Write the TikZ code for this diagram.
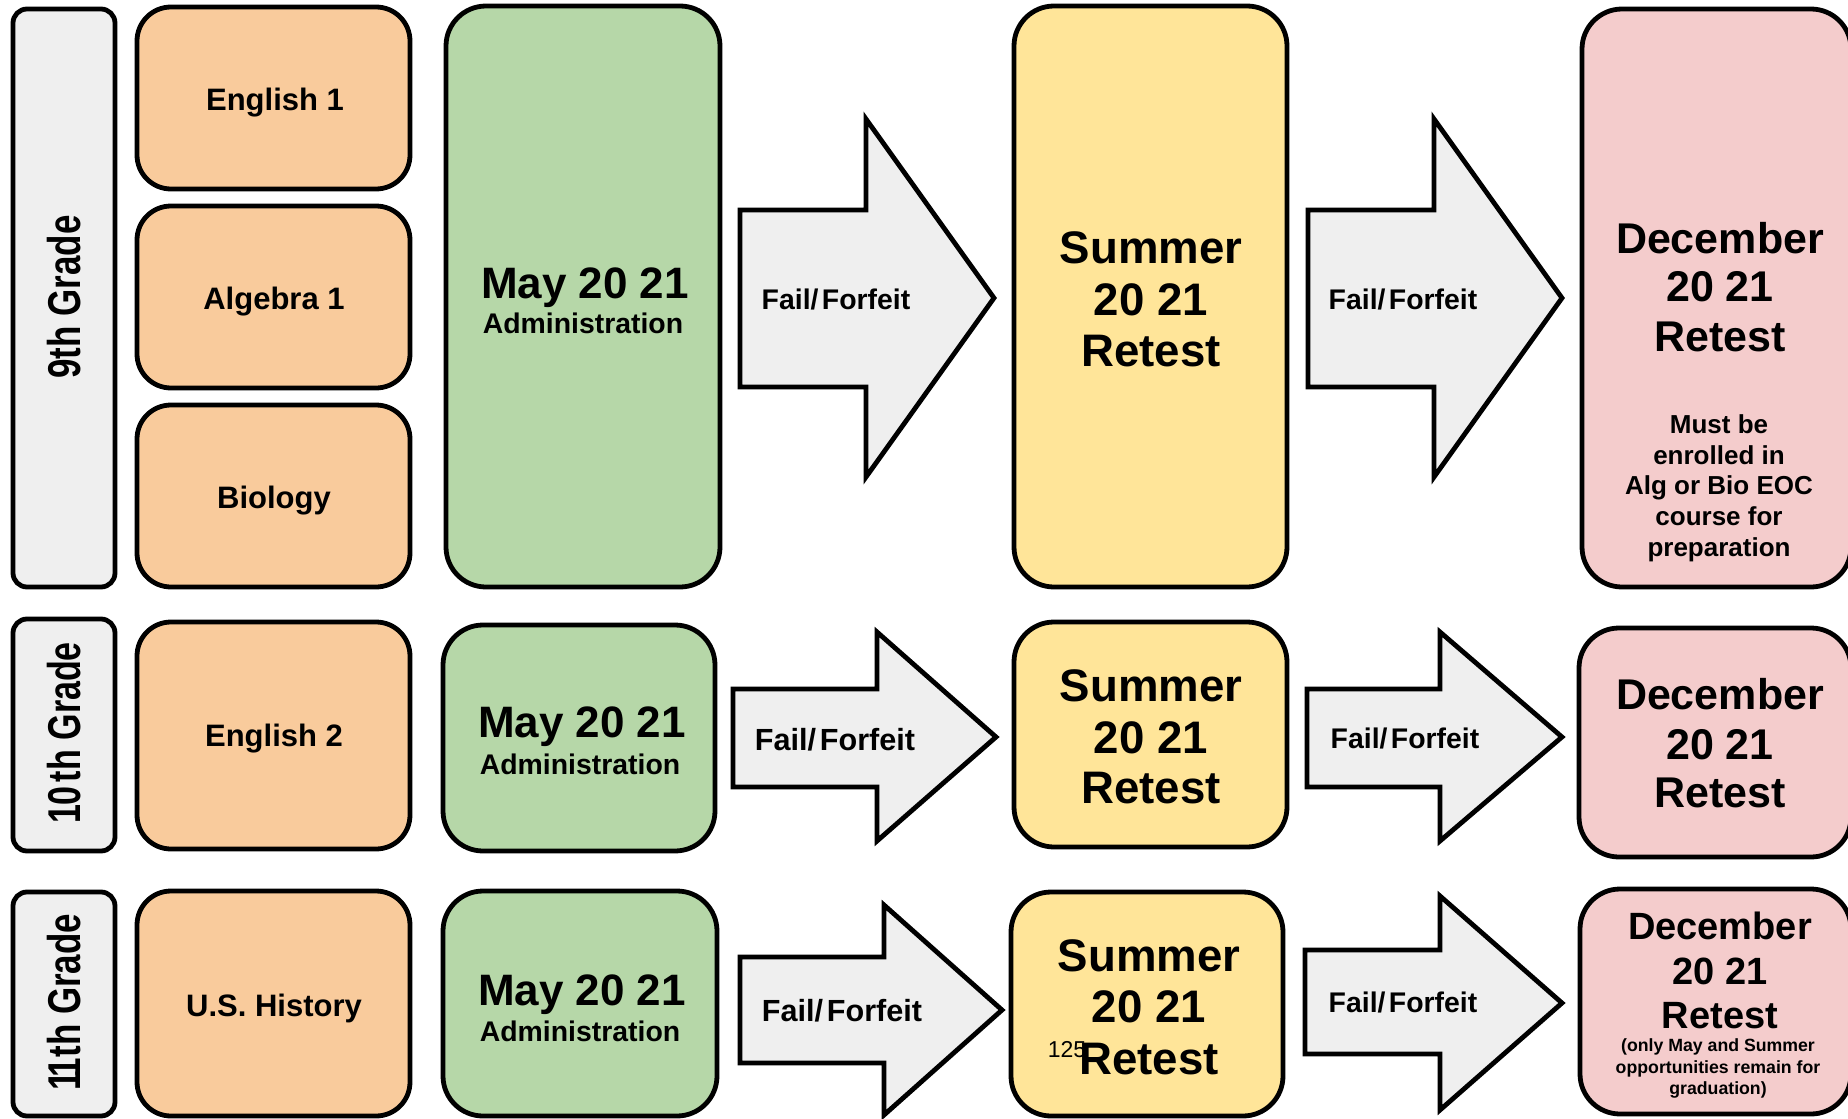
\documentclass[tikz,border=0pt]{standalone}
\usepackage{fontspec}
\setmainfont{Liberation Sans}
\usetikzlibrary{fit}
\definecolor{cOrange}{HTML}{F9CB9C}
\definecolor{cGreen}{HTML}{B6D7A8}
\definecolor{cYellow}{HTML}{FFE599}
\definecolor{cPink}{HTML}{F4CCCC}
\definecolor{cGray}{HTML}{EFEFEF}
\tikzset{
  boxbase/.style={draw=black, line width=2.4pt, inner sep=0pt, line join=round},
  gradebox/.style={boxbase, fill=cGray, rounded corners=7pt},
  coursebox/.style={boxbase, fill=cOrange, rounded corners=17pt},
  maybox/.style={boxbase, fill=cGreen, rounded corners=20pt},
  sumbox/.style={boxbase, fill=cYellow, rounded corners=20pt},
  decbox/.style={boxbase, fill=cPink, rounded corners=20pt},
  blockarrow/.style={draw=black, line width=2.4pt, fill=cGray, line join=miter},
  gradelabel/.style={rotate=90, inner sep=0pt, font=\fontsize{23}{23}\selectfont\bfseries},
}
% name, x, y (visual centre, px), size (pt), text
\newcommand{\tline}[5]{\node[inner sep=0pt, anchor=base, font=\fontsize{#4}{#4}\selectfont\bfseries] (#1) at (#2,{#3+0.72*#4}) {#5};}
\newcommand{\ff}{Fail/\kern0.12em Forfeit}
\begin{document}
\begin{tikzpicture}[x=0.5pt,y=-0.5pt]
\useasboundingbox (0,0) rectangle (1848,1119);
\clip (0,0) rectangle (1848,1119);

% ---------- grade boxes
\node[gradebox, fit={(13,9) (115,587)}] (g9) {};
\node[gradebox, fit={(13,619) (115,851)}] (g10) {};
\node[gradebox, fit={(13,892) (115,1116)}] (g11) {};
\node[gradelabel] (t9) at (64,297) {\scalebox{0.76}[1]{9th Grade}};
\node[gradelabel] (t10) at (64,733) {\scalebox{0.74}[1]{10\kern0.12em th Grade}};
\node[gradelabel] (t11) at (64,1002) {\scalebox{0.76}[1]{1\kern-0.18em 1th Grade}};

% ---------- course boxes
\node[coursebox, fit={(137,7) (410,189)}] (c1) {};
\node[coursebox, fit={(137,206) (410,388)}] (c2) {};
\node[coursebox, fit={(137,405) (410,587)}] (c3) {};
\node[coursebox, fit={(137,622) (410,849)}] (c4) {};
\node[coursebox, fit={(137,891) (410,1116)}] (c5) {};
\tline{tc1}{275}{99}{15.5}{English 1}
\tline{tc2}{274}{298}{15.5}{Algebra 1}
\tline{tc3}{274}{497}{15.5}{Biology}
\tline{tc4}{274}{735}{15.5}{English 2}
\tline{tc5}{274}{1005}{15.5}{U.S. History}

% ---------- May boxes
\node[maybox, fit={(446,6) (720,587)}] (m1) {};
\node[maybox, fit={(443,625) (715,851)}] (m2) {};
\node[maybox, fit={(443,891) (717,1116)}] (m3) {};
\tline{tm1a}{585}{283}{22}{May 20 21}
\tline{tm1b}{583}{323}{14.2}{Administration}
\tline{tm2a}{582}{722}{22}{May 20 21}
\tline{tm2b}{580}{764}{14.2}{Administration}
\tline{tm3a}{582}{990}{22}{May 20 21}
\tline{tm3b}{580}{1031}{14.2}{Administration}

% ---------- Summer boxes
\node[sumbox, fit={(1014,6) (1287,587)}] (s1) {};
\node[sumbox, fit={(1014,622) (1287,847)}] (s2) {};
\node[sumbox, fit={(1011,892) (1283,1116)}] (s3) {};
\tline{ts1a}{1151}{247}{22.8}{Summer}
\tline{ts1b}{1151}{299}{22.8}{20 21}
\tline{ts1c}{1151}{350}{22.8}{Retest}
\tline{ts2a}{1151}{685}{22.8}{Summer}
\tline{ts2b}{1151}{737}{22.8}{20 21}
\tline{ts2c}{1151}{787}{22.8}{Retest}
\tline{ts3a}{1149}{955}{22.8}{Summer}
\tline{ts3b}{1149}{1006}{22.8}{20 21}
\node[inner sep=0pt, font=\fontsize{11.5}{11.5}\selectfont] (pg) at (1067,1050) {125};
\tline{ts3c}{1149}{1058}{22.8}{Retest}

% ---------- December boxes
\node[decbox, fit={(1582,9) (1851,587)}] (d1) {};
\node[decbox, fit={(1579,628) (1851,857)}] (d2) {};
\node[decbox, fit={(1580,889) (1851,1114)}] (d3) {};
\tline{td1a}{1720}{238}{21.5}{December}
\tline{td1b}{1720}{286}{21.5}{20 21}
\tline{td1c}{1720}{336}{21.5}{Retest}
\tline{td1d}{1719}{424}{13}{Must be}
\tline{td1e}{1719}{455}{13}{enrolled in}
\tline{td1f}{1719}{485}{13}{Alg or Bio EOC}
\tline{td1g}{1719}{516}{13}{course for}
\tline{td1h}{1719}{547}{13}{preparation}
\tline{td2a}{1720}{694}{21.5}{December}
\tline{td2b}{1720}{744}{21.5}{20 21}
\tline{td2c}{1720}{792}{21.5}{Retest}
\tline{td3a}{1720}{926}{19}{December}
\tline{td3b}{1720}{971}{19}{20 21}
\tline{td3c}{1720}{1015}{19}{Retest}
\tline{td3d}{1718}{1045}{8.85}{(only May and Summer}
\tline{td3e}{1718}{1067}{8.85}{opportunities remain for}
\tline{td3f}{1718}{1088}{8.85}{graduation)}

% ---------- block arrows
\draw[blockarrow] (740,210) -- (866,210) -- (866,119) -- (994,298) -- (866,477) -- (866,387) -- (740,387) -- cycle;
\draw[blockarrow] (1308,210) -- (1434,210) -- (1434,119) -- (1562,298) -- (1434,477) -- (1434,387) -- (1308,387) -- cycle;
\draw[blockarrow] (733,689) -- (877,689) -- (877,632) -- (996,737) -- (877,841) -- (877,787) -- (733,787) -- cycle;
\draw[blockarrow] (1307,689) -- (1440,689) -- (1440,632) -- (1562,737) -- (1440,841) -- (1440,787) -- (1307,787) -- cycle;
\draw[blockarrow] (740,957) -- (884,957) -- (884,905) -- (1002,1010) -- (884,1115) -- (884,1063) -- (740,1063) -- cycle;
\draw[blockarrow] (1305,950) -- (1440,950) -- (1440,896) -- (1562,1003) -- (1440,1110) -- (1440,1054) -- (1305,1054) -- cycle;
\tline{fa1}{836}{299}{14.2}{\ff}
\tline{fb1}{1403}{299}{14.2}{\ff}
\tline{fa2}{835}{739}{15.3}{\ff}
\tline{fb2}{1405}{738}{14.2}{\ff}
\tline{fa3}{842}{1010}{15.3}{\ff}
\tline{fb3}{1403}{1002}{14.2}{\ff}
\end{tikzpicture}
\end{document}
